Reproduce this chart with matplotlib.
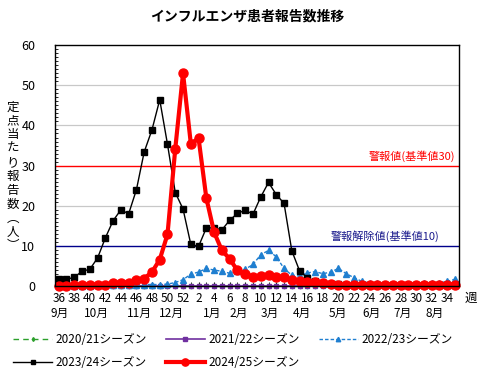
import matplotlib
matplotlib.use("Agg")
import matplotlib.pyplot as plt

plt.rcParams["font.family"] = ["Noto Sans CJK JP", "DejaVu Sans"]

# weeks 36..52 then 1..35
weeks = list(range(36, 53)) + list(range(1, 36))
tick_weeks = list(range(36, 53, 2)) + list(range(2, 35, 2))
months = ["9月", "10月", "11月", "12月", "1月", "2月", "3月", "4月", "5月", "6月", "7月", "8月"]
month_pos = [0.1, 4.9, 10.4, 14.5, 19.8, 23.2, 27.2, 31.3, 35.9, 40.3, 44.3, 48.4]
ylabel_chars = ["定", "点", "当", "た", "り", "報", "告", "数", "︵", "人", "︶"]

s2020 = [0.0] * 52
s2021 = [0.0] * 52
s2022 = [0.1, 0.1, 0.1, 0.1, 0.1, 0.2, 0.2, 0.2, 0.2, 0.3, 0.3, 0.4, 0.4, 0.4, 0.5, 0.9,
         1.6, 3.0, 3.5, 4.4, 4.0, 3.7, 3.2, 3.7, 4.2, 5.4, 7.8, 8.9, 7.3, 4.4, 2.7, 2.5,
         3.3, 3.6, 3.1, 3.5, 4.4, 3.1, 2.1, 1.2, 0.8, 0.7, 0.6, 0.6, 0.6, 0.6, 0.6, 0.7,
         0.7, 0.8, 1.2, 1.7]
s2023 = [1.7, 1.7, 2.2, 3.7, 4.2, 7.0, 12.0, 16.3, 19.0, 18.0, 24.0, 33.4, 38.9, 46.4, 35.3, 23.3,
         19.2, 10.4, 9.9, 14.5, 14.5, 14.0, 16.4, 18.1, 18.9, 17.9, 22.2, 25.8, 22.8, 20.6, 8.8, 3.8,
         2.1, 1.2, 0.8, 0.6, 0.5, 0.4, 0.3, 0.3, 0.2, 0.2, 0.2, 0.2, 0.2, 0.2, 0.2, 0.2,
         0.2, 0.2, 0.2, 0.2]
s2024 = [0.1, 0.0, 0.25, 0.25, 0.25, 0.4, 0.4, 0.75, 0.9, 0.9, 1.6, 1.9, 3.5, 6.6, 12.9, 34.2,
         53.0, 35.5, 36.8, 21.9, 13.4, 8.9, 6.8, 3.9, 3.1, 2.2, 2.5, 2.7, 2.2, 2.2, 1.5, 1.2,
         1.1, 1.1, 0.7, 0.5, 0.4, 0.3, 0.3, 0.3, 0.3, 0.3, 0.4, 0.3, 0.3, 0.3, 0.4, 0.3,
         0.3, 0.3, 0.4, 0.4]

x = list(range(len(weeks)))

fig = plt.figure(figsize=(4.81, 3.76), dpi=100)
ax = fig.add_axes([0.114, 0.239, 0.840, 0.641])

for yv in [20, 40, 50]:
    ax.axhline(yv, color="#c8c8c8", lw=0.9, zorder=0)
ax.axhline(30, color="#ff0000", lw=1.0, zorder=1)
ax.axhline(10, color="#00008b", lw=1.0, zorder=1)
ax.text(51.0, 31.0, "警報値(基準値30)", color="#ff0000", fontsize=8, ha="right", va="bottom")
ax.text(49.0, 11.0, "警報解除値(基準値10)", color="#1a1a8c", fontsize=8, ha="right", va="bottom")

l20, = ax.plot(x, s2020, color="#2ca02c", lw=1, ls=(0, (4, 3)), marker="d", ms=2.5, clip_on=False)
l21, = ax.plot(x, s2021, color="#7030a0", lw=1.2, marker="s", ms=3.5, clip_on=False)
l22, = ax.plot(x, s2022, color="#1f7fd0", lw=1, ls=(0, (2.5, 1.5)), marker="^", ms=4, clip_on=False)
l23, = ax.plot(x, s2023, color="black", lw=1, marker="s", ms=4, clip_on=False)
l24, = ax.plot(x, s2024, color="#ff0000", lw=3, marker="o", ms=6.5, clip_on=False)

ax.set_xlim(-0.5, 51.5)
ax.set_ylim(0, 60)
ax.set_yticks(range(0, 61, 10))
ax.set_yticks(range(0, 61, 1), minor=True)
ax.tick_params(axis="y", which="major", length=0, labelsize=9, pad=14)
ax.tick_params(axis="y", which="minor", length=2, direction="in")
ax.set_xticks([weeks.index(w) for w in tick_weeks])
ax.set_xticks(x, minor=True)
ax.set_xticklabels([str(w) for w in tick_weeks])
ax.tick_params(axis="x", which="major", length=3, direction="in", labelsize=8.5, pad=4)
ax.tick_params(axis="x", which="minor", length=3, direction="in")
for sp in ax.spines.values():
    sp.set_linewidth(1.0)

for m, p in zip(months, month_pos):
    ax.text(p, -6.8, m, fontsize=8.5, ha="center", va="center")
ax.text(53.0, -3.0, "週", fontsize=9, ha="center", va="center")

# vertical y label, one character per line
for i, ch in enumerate(ylabel_chars):
    fig.text(0.027, 1 - (107 + 13.9 * i) / 376, ch, fontsize=9, ha="center", va="center")

fig.text(0.515, 0.955, "インフルエンザ患者報告数推移", fontsize=10, fontweight="bold", ha="center", va="center")

handles = [l20, l23, l21, l24, l22]
labels = ["2020/21シーズン", "2023/24シーズン", "2021/22シーズン", "2024/25シーズン", "2022/23シーズン"]
fig.legend(handles, labels, ncol=3, loc="lower left", bbox_to_anchor=(0.005, -0.01), frameon=False,
           fontsize=8.5, handlelength=3.3, handletextpad=0.3, columnspacing=1.6, labelspacing=0.85,
           markerscale=0.8)

fig.savefig("out.png", dpi=100)
